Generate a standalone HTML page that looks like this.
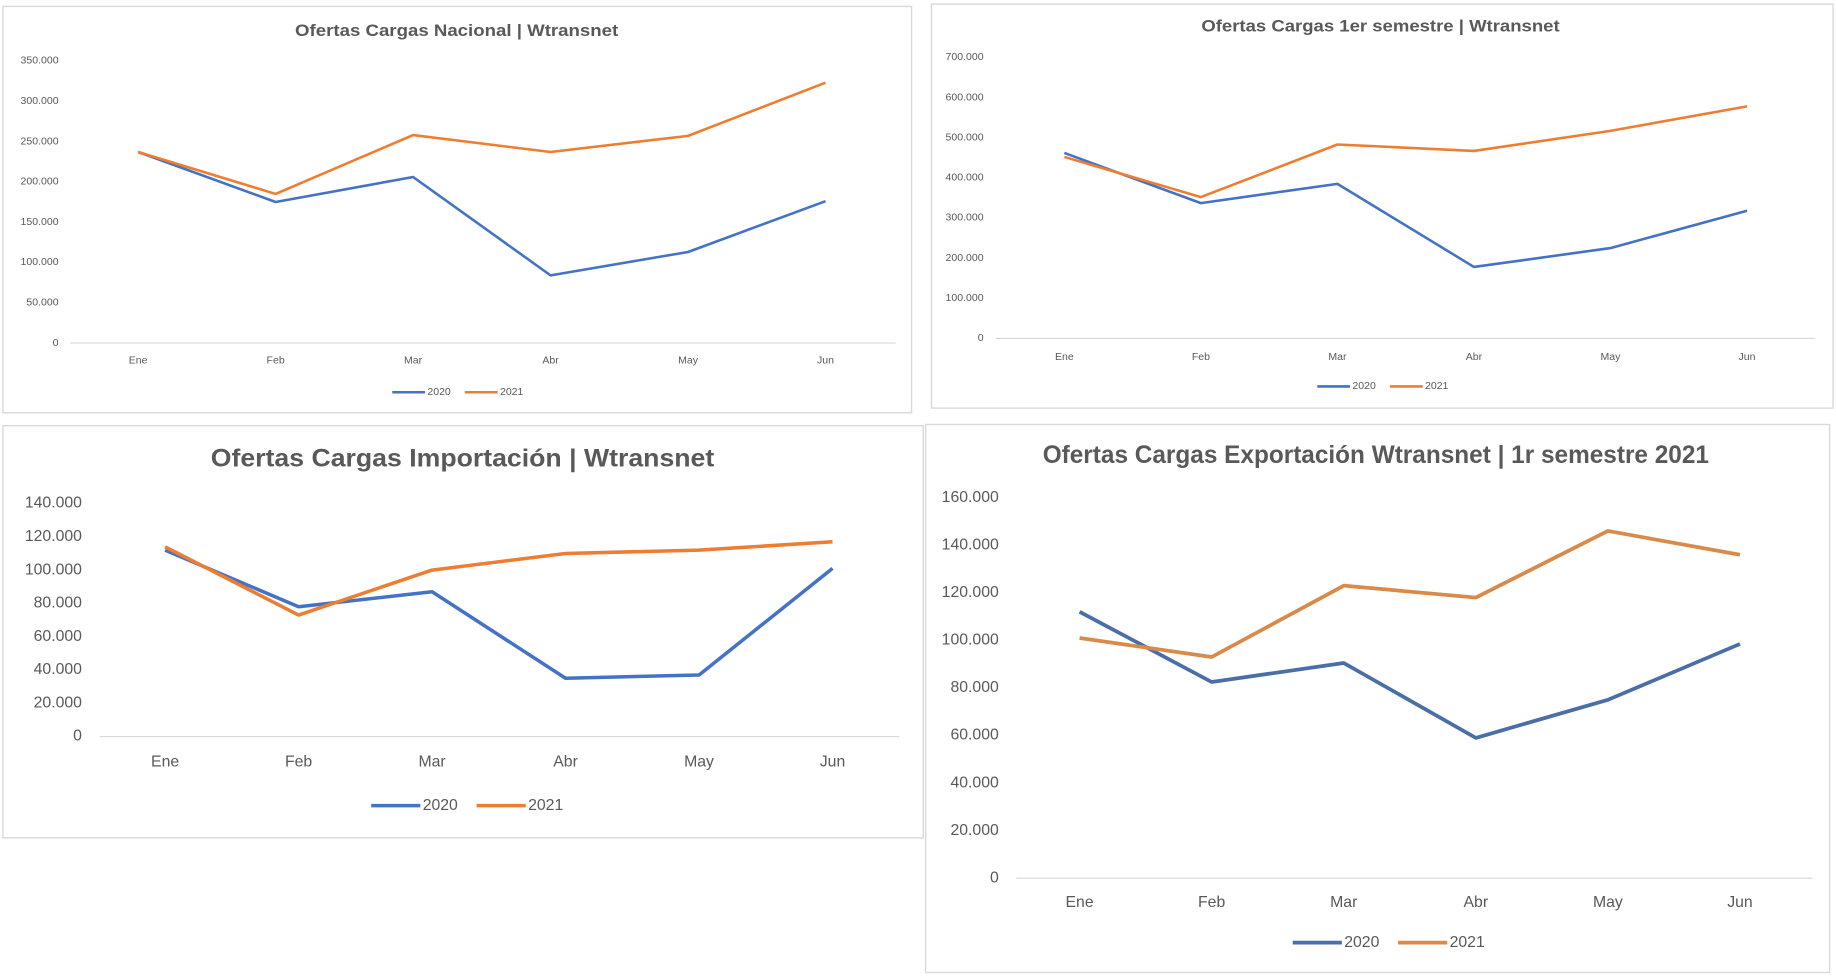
<!DOCTYPE html>
<html><head><meta charset="utf-8"><style>
html,body{margin:0;padding:0;background:#fff;}
svg{display:block;}
text{font-family:"Liberation Sans",sans-serif;fill:#595959;}
</style></head><body>
<svg id="s" width="1836" height="976" viewBox="0 0 1568 833.5" preserveAspectRatio="none" xmlns="http://www.w3.org/2000/svg"></svg>
<script>
const svg=document.getElementById('s');
let h='';
const charts=[
{box:[2,5,778,352],title:'Ofertas Cargas Nacional | Wtransnet',tx:390,ty:27,tl:276,tf:14,
 lx:50,max:350000,step:50000,yTop:52,y0:293,px0:60,px1:765,cx0:118,cx1:705,xly:308,lf:9,
 leg:[335,335],c1:'#4472C4',c2:'#ED7D31',sw:2.2,
 d1:[237,175,206,84,113,176],d2:[237,185,258,237,257,323]},
{box:[795,3,1565,348],title:'Ofertas Cargas 1er semestre | Wtransnet',tx:1179,ty:23,tl:306,tf:14,
 lx:840,max:700000,step:100000,yTop:49,y0:289,px0:850,px1:1550,cx0:909,cx1:1492,xly:305,lf:9,
 leg:[1125,330],c1:'#4472C4',c2:'#ED7D31',sw:2.2,
 d1:[462,337,385,178,225,318],d2:[452,352,483,467,517,578]},
{box:[2,363,788,715],title:'Ofertas Cargas Importación | Wtransnet',tx:395,ty:393,tl:430,tf:21,
 lx:70,max:140000,step:20000,yTop:430,y0:629,px0:85,px1:768,cx0:141,cx1:711,xly:651,lf:13.5,
 leg:[317,688],c1:'#4472C4',c2:'#ED7D31',sw:3,
 d1:[112,78,87,35,37,101],d2:[114,73,100,110,112,117]},
{box:[790,362,1562,830],title:'Ofertas Cargas Exportación Wtransnet | 1r semestre 2021',tx:1175,ty:390,tl:569,tf:21,
 lx:853,max:160000,step:20000,yTop:425,y0:750,px0:868,px1:1548,cx0:922,cx1:1486,xly:771,lf:13.5,
 leg:[1104,805],c1:'#4A6EA8',c2:'#D98A4A',sw:3.2,
 d1:[112,82.5,90.5,59,75,98.5],d2:[101,93,123,118,146,136]}
];
const mon=['Ene','Feb','Mar','Abr','May','Jun'];
function fmt(v){return v===0?'0':v.toString().replace(/\B(?=(\d{3})+(?!\d))/g,'.');}
for(const c of charts){
 const [x0,y0,x1,y1]=c.box;
 h+=`<rect x="${x0+.5}" y="${y0+.5}" width="${x1-x0}" height="${y1-y0}" fill="#fff" stroke="#d9d9d9" stroke-width="1.2"/>`;
 h+=`<text x="${c.tx}" y="${c.ty}" text-anchor="middle" dominant-baseline="middle" font-weight="bold" font-size="${c.tf}" textLength="${c.tl}" lengthAdjust="spacingAndGlyphs">${c.title}</text>`;
 const n=c.max/c.step;
 for(let i=0;i<=n;i++){
  const y=c.y0-(c.y0-c.yTop)*i/n;
  h+=`<text x="${c.lx}" y="${y}" text-anchor="end" dominant-baseline="middle" font-size="${c.lf}">${fmt(i*c.step)}</text>`;
 }
 h+=`<line x1="${c.px0}" x2="${c.px1}" y1="${c.y0}" y2="${c.y0}" stroke="#d9d9d9" stroke-width="1"/>`;
 const X=i=>c.cx0+(c.cx1-c.cx0)*i/5, Y=v=>c.y0-(c.y0-c.yTop)*v*1000/c.max;
 mon.forEach((m,i)=>{h+=`<text x="${X(i)}" y="${c.xly}" text-anchor="middle" dominant-baseline="middle" font-size="${c.lf}">${m}</text>`;});
 for(const [d,col] of [[c.d1,c.c1],[c.d2,c.c2]]){
  h+=`<polyline fill="none" stroke="${col}" stroke-width="${c.sw}" stroke-linejoin="round" points="${d.map((v,i)=>X(i)+','+Y(v)).join(' ')}"/>`;
 }
 const [lx,ly]=c.leg, big=c.lf>10, sl=big?42:28, gap=big?90:62;
 [[c.c1,'2020'],[c.c2,'2021']].forEach(([col,t],k)=>{
  const bx=lx+k*gap;
  h+=`<line x1="${bx}" x2="${bx+sl}" y1="${ly}" y2="${ly}" stroke="${col}" stroke-width="${c.sw}"/>`;
  h+=`<text x="${bx+sl+2}" y="${ly}" dominant-baseline="middle" font-size="${c.lf}">${t}</text>`;
 });
}
svg.innerHTML=h;
</script>
</body></html>
